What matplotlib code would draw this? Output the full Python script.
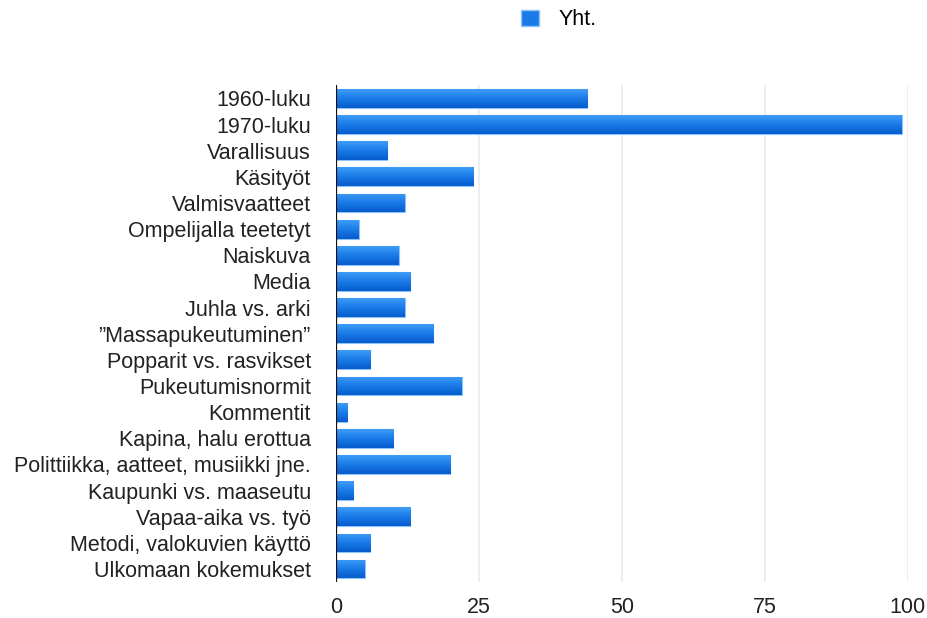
import matplotlib.pyplot as plt
import numpy as np
from matplotlib.patches import Patch
from matplotlib.colors import LinearSegmentedColormap

categories = [
    '1960-luku', '1970-luku', 'Varallisuus', 'Käsityöt', 'Valmisvaatteet',
    'Ompelijalla teetetyt', 'Naiskuva', 'Media', 'Juhla vs. arki',
    '”Massapukeutuminen”', 'Popparit vs. rasvikset', 'Pukeutumisnormit',
    'Kommentit', 'Kapina, halu erottua', 'Polittiikka, aatteet, musiikki jne.',
    'Kaupunki vs. maaseutu', 'Vapaa-aika vs. työ', 'Metodi, valokuvien käyttö',
    'Ulkomaan kokemukset',
]
values = [44, 99, 9, 24, 12, 4, 11, 13, 12, 17, 6, 22, 2, 10, 20, 3, 13, 6, 5]
xticks = [0, 25, 50, 75, 100]

plt.rcParams['font.family'] = ['Liberation Sans', 'DejaVu Sans']

fig = plt.figure(figsize=(9.28, 6.18), dpi=100)
ax = fig.add_axes([0.362, 0.058, 0.616, 0.804])

ypos = np.arange(len(categories))
h = 0.72
# vertical gradient: light on top, dark at bottom
grad = np.linspace(0, 1, 64).reshape(-1, 1)
cmap = LinearSegmentedColormap.from_list('bluegrad', ['#3f9cf6', '#1a7ae8', '#075ccd'])

bars = ax.barh(ypos, values, height=h, color='#1a7ae8', edgecolor='#8cc4fb', linewidth=0.8, zorder=2)
for b in bars:
    x0, y0 = b.get_x(), b.get_y()
    w, hh = b.get_width(), b.get_height()
    im = ax.imshow(grad, cmap=cmap, aspect='auto', extent=(x0, x0 + w, y0 + hh, y0),
                   origin='upper', zorder=3)
    im.set_clip_path(b)

ax.set_xlim(0, 100)
ax.set_ylim(len(categories) - 0.5, -0.5)
ax.set_yticks(ypos)
ax.set_yticklabels(categories, fontsize=15.5, color='#222222')
ax.set_xticks(xticks)
ax.set_xticklabels([str(t) for t in xticks], fontsize=15.5, color='#222222')
ax.tick_params(axis='y', length=0, pad=18)
ax.tick_params(axis='x', length=0, pad=11)

for t in xticks[1:]:
    ax.axvline(t, color='#ebebeb', linewidth=1.2, zorder=1)
ax.axvline(0, color='#111111', linewidth=1.6, zorder=4)

for s in ax.spines.values():
    s.set_visible(False)

fig.legend(handles=[Patch(facecolor='#1a7ae8', edgecolor='#8cc4fb')], labels=['Yht.'],
           loc='center', bbox_to_anchor=(0.602, 0.968), frameon=False, fontsize=15.5,
           handlelength=0.85, handleheight=0.8, handletextpad=0.9)

fig.savefig('out.png', dpi=100, facecolor='white')
